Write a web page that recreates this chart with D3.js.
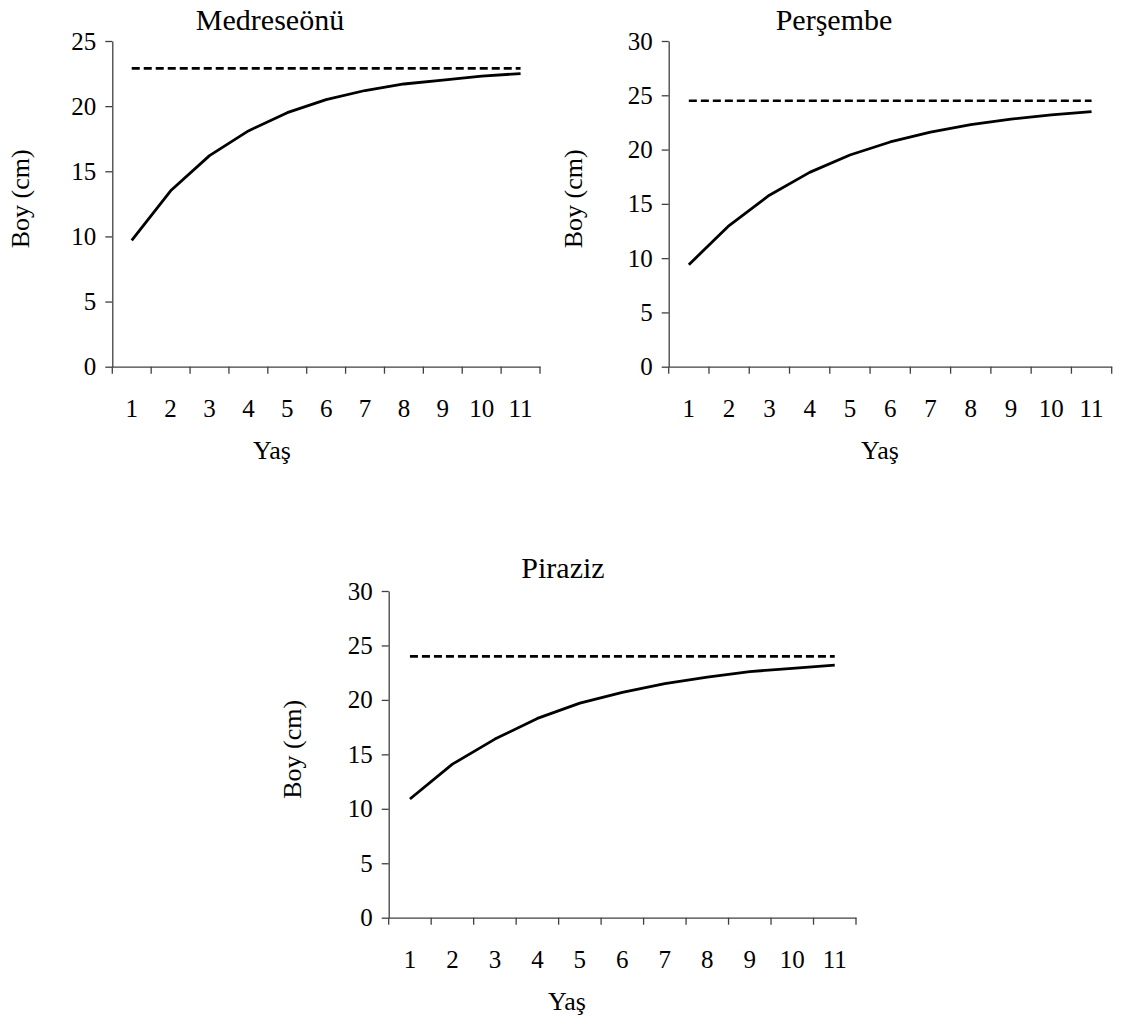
<!DOCTYPE html>
<html>
<head>
<meta charset="utf-8">
<script src="https://cdn.jsdelivr.net/npm/d3@7"></script>
<style>
  html, body { margin: 0; padding: 0; background: #fff; }
  svg { display: block; }
  svg text { font-family: "Liberation Serif", "Times New Roman", serif !important; fill: #000; }
</style>
</head>
<body>
<svg id="chart" width="1121" height="1026"></svg>
<script>
// ---- Data ----
const ages = [1, 2, 3, 4, 5, 6, 7, 8, 9, 10, 11];
const titles = ["Medreseönü", "Perşembe", "Piraziz"];
const medreseonu = [9.7, 13.5, 16.2, 18.1, 19.5, 20.5, 21.2, 21.7, 22.0, 22.3, 22.5];
const persembe   = [9.4, 13.0, 15.8, 17.9, 19.5, 20.7, 21.6, 22.3, 22.8, 23.2, 23.5];
const piraziz    = [10.9, 14.1, 16.4, 18.3, 19.7, 20.7, 21.5, 22.1, 22.6, 22.9, 23.2];
const lInf = [22.9, 24.5, 24.0];
const yMax = [25, 30, 30];
const yTickStep = 5;
const xTitle = "Yaş";
const yTitle = "Boy (cm)";

// ---- Layout ----
const panels = [
  { series: medreseonu, x0: 112.3, x1: 540,    yTop: 41,  yBot: 366.7, titleX: 270, titleY: 30,  yTitleX: 20,  xTitleX: 272 },
  { series: persembe,   x0: 668.7, x1: 1111.7, yTop: 41,  yBot: 366.7, titleX: 834, titleY: 30,  yTitleX: 573, xTitleX: 880 },
  { series: piraziz,    x0: 388.7, x1: 856,    yTop: 591, yBot: 917.7, titleX: 563, titleY: 578, yTitleX: 292, xTitleX: 567 }
];

const svg = d3.select("#chart");
const axisColor = "#404040";
const serif = '"Liberation Serif", "Times New Roman", serif';

panels.forEach((p, i) => {
  const g = svg.append("g");
  const x = d3.scaleBand().domain(ages).range([p.x0, p.x1]).padding(0);
  const y = d3.scaleLinear().domain([0, yMax[i]]).range([p.yBot, p.yTop]);
  const cx = d => x(d) + x.bandwidth() / 2;

  // Y axis
  const yAxis = d3.axisLeft(y)
    .tickValues(d3.range(0, yMax[i] + 0.001, yTickStep))
    .tickSize(7).tickPadding(9).tickSizeOuter(0);
  const ya = g.append("g").attr("transform", `translate(${p.x0},0)`).call(yAxis)
    .attr("font-family", serif);
  ya.select(".domain").attr("stroke", axisColor).attr("stroke-width", 1.3);
  ya.selectAll(".tick line").attr("stroke", axisColor).attr("stroke-width", 1.3);
  ya.selectAll(".tick text").attr("font-size", 25).style("font-family", serif).attr("fill", "#000");

  // X axis (labels at band centres, tick marks at band boundaries)
  const xAxis = d3.axisBottom(x).tickSize(0).tickPadding(33).tickSizeOuter(0);
  const xa = g.append("g").attr("transform", `translate(0,${p.yBot})`).call(xAxis)
    .attr("font-family", serif);
  xa.select(".domain").attr("stroke", axisColor).attr("stroke-width", 1.3);
  xa.selectAll(".tick text").attr("font-size", 25).style("font-family", serif).attr("fill", "#000");
  const bounds = ages.map(d => x(d)).concat([x.range()[1]]);
  g.append("g").selectAll("line").data(bounds).join("line")
    .attr("x1", d => d).attr("x2", d => d)
    .attr("y1", p.yBot).attr("y2", p.yBot + 7)
    .attr("stroke", axisColor).attr("stroke-width", 1.3);

  // Asymptote (dashed)
  const dashed = d3.line().x(d => cx(d)).y(() => y(lInf[i]));
  g.append("path").datum([ages[0], ages[ages.length - 1]])
    .attr("d", dashed)
    .attr("fill", "none").attr("stroke", "#000").attr("stroke-width", 2.6)
    .attr("stroke-dasharray", "8,4");

  // Growth curve
  const line = d3.line().x((d, k) => cx(ages[k])).y(d => y(d));
  g.append("path").datum(p.series)
    .attr("d", line)
    .attr("fill", "none").attr("stroke", "#000").attr("stroke-width", 2.8)
    .attr("stroke-linejoin", "round");

  // Titles
  g.append("text").attr("x", p.titleX).attr("y", p.titleY)
    .attr("text-anchor", "middle").attr("font-size", 30).style("font-family", serif).text(titles[i]);
  g.append("text").attr("x", p.xTitleX).attr("y", p.yBot + 92)
    .attr("text-anchor", "middle").attr("font-size", 26).style("font-family", serif).text(xTitle);
  const ym = (p.yTop + p.yBot) / 2 - 5;
  g.append("text").attr("transform", `translate(${p.yTitleX + 9},${ym}) rotate(-90)`)
    .attr("text-anchor", "middle").attr("font-size", 26).style("font-family", serif).text(yTitle);
});
</script>
</body>
</html>
